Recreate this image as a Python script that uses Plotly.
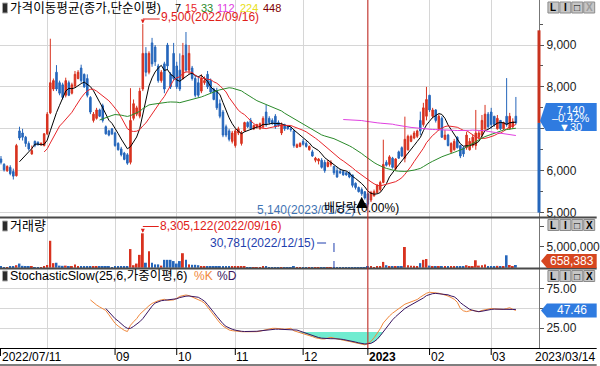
import plotly.graph_objects as go
import pandas as pd
import numpy as np

# ---------------- DATA ----------------
HOLIDAYS = ['2022-08-15', '2022-09-09', '2022-09-12', '2022-10-03', '2022-10-10',
            '2022-12-30', '2023-01-23', '2023-01-24', '2023-03-01']
DATES = [d for d in pd.bdate_range('2022-07-11', '2023-03-14')
         if d.strftime('%Y-%m-%d') not in HOLIDAYS]

OPEN = [6280, 6150, 6000, 6080, 5980, 5880, 6950, 6900, 6800, 6650,
        6400, 6700, 6680, 6620, 6600, 6880, 7380, 7950, 8350, 8100,
        8050, 7800, 8100, 7850, 8020, 8200, 8450, 8300, 8200, 7750,
        7200, 7250, 7450, 7550, 7050, 6950, 7000, 6900, 6650, 6520,
        6420, 6380, 6200, 7250, 7350, 7300, 7950, 8800, 8350, 9050,
        8950, 8500, 8150, 8550, 9000, 8300, 8800, 8500, 8400, 8200,
        9000, 8400, 8450, 8200, 8100, 7900, 8100, 8300, 8150, 7950,
        7900, 7600, 7400, 7050, 6950, 6700, 6600, 6900, 6650, 6950,
        7150, 7200, 7000, 7050, 7000, 7050, 7400, 7250, 7200, 7300,
        7150, 6900, 7100, 7050, 7000, 6950, 6560, 6580, 6700, 6650,
        6500, 6450, 6250, 6230, 6250, 6200, 6100, 6150, 6100, 6000,
        5980, 5980, 5950, 5950, 5900, 5700, 5600, 5550, 5500, 5450,
        5300, 5400, 5480, 5550, 5720, 6200, 6150, 6300, 6050, 6450,
        6550, 6300, 6500, 6700, 6780, 6820, 7200, 7100, 7300, 7800,
        7300, 7450, 7000, 7250, 6750, 6850, 6450, 6500, 6800, 6600,
        6550, 6550, 6500, 6600, 6600, 6800, 6850, 7000, 7350, 7400,
        7300, 7000, 7200, 7000, 7300, 7000, 7050, 7300]
HIGH = [6350, 6180, 6130, 6130, 6050, 6640, 7050, 7000, 6830, 6700,
        6600, 6720, 6700, 6680, 6900, 7400, 9150, 8200, 8520, 8150,
        8100, 8220, 8150, 8100, 8380, 8400, 8530, 8320, 8300, 7780,
        7400, 7500, 7480, 7600, 7080, 6980, 7020, 6930, 6680, 6570,
        6450, 6420, 7970, 7700, 7550, 7980, 9500, 8950, 8850, 9170,
        9000, 8550, 8400, 8600, 9050, 8350, 9050, 8600, 8800, 9050,
        9310, 9000, 8500, 8290, 8250, 8300, 8250, 8380, 8200, 7980,
        7980, 7700, 7450, 7100, 7000, 6950, 7000, 7050, 6950, 7170,
        7180, 7260, 7100, 7120, 7150, 7300, 7570, 7300, 7250, 7350,
        7200, 7150, 7120, 7080, 7050, 6980, 6650, 6680, 6760, 6700,
        6600, 6500, 6330, 6300, 6300, 6260, 6260, 6250, 6120, 6080,
        6050, 6020, 5980, 5980, 5900, 5720, 5620, 5600, 5500, 5480,
        5520, 5550, 5680, 5760, 6740, 6250, 6370, 6330, 6300, 6480,
        6580, 7290, 6860, 6860, 6950, 6980, 7410, 7620, 8000, 7810,
        7500, 7470, 7350, 7300, 6970, 6880, 6680, 6760, 6820, 6620,
        6580, 6930, 6780, 6860, 7450, 6950, 7330, 7570, 7400, 7500,
        7300, 7330, 7210, 7170, 8210, 7380, 7250, 7760]
LOW = [6150, 5980, 5970, 5890, 5790, 5860, 6730, 6720, 6570, 6480,
       6380, 6560, 6600, 6600, 6580, 6850, 7350, 7900, 7900, 7800,
       7700, 7750, 7780, 7820, 7980, 8180, 8100, 7980, 7750, 7350,
       7150, 7220, 7280, 7150, 6860, 6820, 6850, 6570, 6480, 6340,
       6250, 6140, 6150, 7200, 7300, 7250, 7900, 8250, 8300, 8480,
       8500, 8100, 8100, 7850, 8400, 7950, 8150, 7950, 7900, 8170,
       8350, 8300, 8150, 7750, 7750, 7850, 8050, 7950, 7850, 7680,
       7450, 7250, 6800, 6800, 6700, 6650, 6550, 6850, 6600, 6930,
       7020, 6980, 6970, 7000, 6980, 7000, 7050, 7100, 7100, 7000,
       7050, 6850, 6950, 6980, 6930, 6550, 6540, 6560, 6600, 6550,
       6480, 6330, 6200, 6150, 6050, 5950, 6080, 6100, 5900, 5830,
       5920, 5880, 5880, 5820, 5600, 5550, 5480, 5400, 5310, 5140,
       5250, 5380, 5450, 5500, 5700, 6100, 6100, 6050, 6000, 6280,
       6330, 6200, 6480, 6680, 6750, 6780, 6850, 7050, 7200, 7400,
       7250, 7150, 6950, 6780, 6730, 6580, 6420, 6480, 6530, 6300,
       6330, 6500, 6480, 6550, 6500, 6750, 6800, 6950, 7000, 7000,
       7050, 6980, 6970, 6970, 7050, 6980, 7000, 7100]
CLOSE = [6200, 6020, 6100, 5930, 5870, 6600, 6780, 6800, 6650, 6520,
         6480, 6600, 6620, 6650, 6880, 7350, 8100, 8150, 7950, 7850,
         7750, 8150, 7800, 8050, 8300, 8350, 8150, 8000, 7800, 7400,
         7350, 7450, 7300, 7200, 6880, 6850, 6880, 6600, 6500, 6380,
         6270, 6180, 7200, 7600, 7500, 7900, 8800, 8350, 8800, 8550,
         8600, 8150, 8350, 7950, 8500, 8000, 8200, 8000, 7950, 8750,
         8400, 8800, 8200, 7800, 7800, 8200, 8150, 8000, 7880, 7700,
         7500, 7300, 6850, 6850, 6750, 6900, 6950, 7000, 6900, 7150,
         7050, 7000, 7080, 7100, 7120, 7250, 7100, 7150, 7120, 7050,
         7080, 7100, 7000, 7000, 6980, 6600, 6620, 6650, 6630, 6580,
         6580, 6350, 6300, 6280, 6080, 6000, 6200, 6200, 5950, 5850,
         5950, 5900, 5900, 5850, 5650, 5600, 5500, 5450, 5350, 5200,
         5480, 5500, 5650, 5720, 6150, 6130, 6330, 6080, 6280, 6300,
         6350, 6750, 6820, 6820, 6900, 6950, 6950, 7500, 7700, 7450,
         7450, 7200, 7300, 6800, 6850, 6600, 6650, 6700, 6550, 6350,
         6400, 6850, 6700, 6800, 6900, 6900, 7200, 7350, 7050, 7100,
         7100, 7250, 7000, 7150, 7100, 7300, 7170, 7140]
VOLUME = [180000, 150000, 120000, 200000, 260000, 600000, 1000000, 450000, 300000, 250000,
          200000, 150000, 130000, 150000, 350000, 650000, 6500000, 1100000, 1200000, 500000,
          450000, 500000, 300000, 300000, 800000, 400000, 350000, 300000, 350000, 400000,
          220000, 250000, 200000, 280000, 220000, 180000, 150000, 250000, 200000, 220000,
          180000, 300000, 4500000, 600000, 1000000, 3100000, 8305122, 1200000, 4000000, 1200000,
          800000, 800000, 500000, 1900000, 1900000, 1900000, 1600000, 1000000, 1600000, 3500000,
          1900000, 800000, 700000, 700000, 600000, 400000, 400000, 300000, 250000, 300000,
          250000, 300000, 350000, 250000, 200000, 200000, 250000, 180000, 200000, 220000,
          150000, 130000, 120000, 110000, 140000, 200000, 250000, 150000, 120000, 130000,
          100000, 150000, 90000, 80000, 90000, 200000, 120000, 100000, 110000, 90000,
          100000, 130000, 90000, 80000, 120000, 150000, 100000, 80000, 30781, 90000,
          70000, 60000, 70000, 80000, 150000, 120000, 130000, 140000, 160000, 250000,
          200000, 150000, 200000, 250000, 1400000, 600000, 350000, 250000, 250000, 200000,
          300000, 5000000, 600000, 500000, 450000, 350000, 1100000, 1900000, 2100000, 500000,
          350000, 300000, 350000, 250000, 200000, 220000, 250000, 200000, 180000, 200000,
          180000, 600000, 300000, 250000, 1800000, 500000, 600000, 800000, 400000, 350000,
          300000, 450000, 300000, 350000, 3000000, 650000, 400000, 658383]

# Stochastic Slow %K (from bar 29) and %D (from bar 34)
STOCH_K_START = 29
STOCH_K = [61.0, 57.5, 54.5, 52.0, 50.0, 47.5, 42.0, 36.5, 31.0, 27.5,
           24.5, 22.0, 20.5, 28.5, 33.0, 37.0, 42.5, 46.5, 50.0, 53.5,
           56.5, 58.5, 60.0, 61.0, 61.8, 60.5, 60.5, 61.0, 63.0, 65.5,
           66.5, 67.3, 66.5, 65.0, 63.5, 62.0, 59.5, 57.0, 52.0, 46.5,
           41.0, 35.5, 31.5, 27.5, 24.5, 22.5, 21.6, 21.0, 20.5, 20.3,
           20.2, 20.1, 20.1, 20.2, 20.3, 21.0, 22.0, 23.5, 24.5, 24.6,
           24.6, 24.6, 24.0, 23.4, 24.0, 24.6, 21.5, 20.3, 19.0, 18.3,
           17.0, 15.5, 14.0, 12.5, 11.5, 11.0, 11.0, 12.0, 13.1, 12.0,
           11.0, 9.8, 9.2, 8.6, 7.8, 6.8, 5.8, 5.0, 4.3, 3.5,
           5.0, 8.0, 12.5, 18.0, 24.0, 31.5, 36.5, 40.5, 44.0, 47.0,
           50.0, 53.0, 55.5, 57.0, 58.7, 60.0, 61.5, 64.5, 67.3, 69.5,
           70.8, 70.5, 70.0, 69.5, 68.5, 67.5, 66.0, 64.0, 61.8, 58.0,
           50.0, 47.0, 46.0, 47.0, 48.0, 46.5, 46.0, 47.5, 48.5, 49.5,
           50.0, 49.5, 49.3, 49.0, 48.8, 50.0, 51.0, 49.0, 47.46]
STOCH_D_START = 34
STOCH_D = [50.0, 45.5, 41.7, 37.0, 34.0, 30.0, 27.0, 24.6, 24.6, 27.0,
           29.5, 33.0, 37.0, 42.5, 48.0, 53.0, 57.0, 59.0, 60.0, 60.5,
           61.0, 61.0, 61.5, 62.5, 64.0, 65.0, 65.8, 66.0, 65.5, 65.0,
           64.4, 62.0, 59.5, 55.0, 50.5, 45.0, 40.0, 34.5, 30.5, 27.0,
           25.0, 23.4, 22.2, 21.2, 20.8, 20.5, 20.4, 20.4, 20.5, 20.8,
           21.3, 21.8, 22.4, 23.0, 23.4, 23.5, 23.5, 23.4, 23.4, 23.2,
           23.0, 22.8, 22.4, 21.0, 19.5, 18.5, 16.5, 15.0, 13.8, 12.8,
           12.0, 11.5, 11.3, 11.3, 11.3, 11.3, 10.8, 10.3, 9.7, 8.7,
           7.8, 7.0, 6.0, 5.2, 4.6, 4.8, 5.4, 7.5, 10.5, 15.0,
           20.3, 25.5, 31.0, 35.5, 39.5, 43.0, 47.0, 50.0, 52.4, 54.5,
           56.5, 58.7, 61.0, 63.5, 66.5, 68.0, 69.0, 69.4, 69.0, 68.8,
           68.5, 67.5, 66.0, 65.0, 62.0, 57.5, 54.5, 51.5, 49.0, 47.5,
           46.5, 45.9, 46.5, 47.5, 48.0, 48.8, 49.2, 49.3, 49.2, 49.0,
           48.9, 48.8, 48.8, 48.8]
STOCH_OVERSOLD = 20

MA_PERIODS = [7, 15, 33, 112, 224, 448]
MA_COLORS = ['#000000', '#e8262a', '#2a8a2a', '#e040e0', '#e8e020', '#800000']
EX_DIV_DATE = '2022-12-28'
EX_DIV_TEXT = '배당락(0.00%)'
AXIS_BAR_TOP, AXIS_BAR_BOTTOM = 9350, 5000

# ---------------- GEOMETRY / STYLE ----------------
FONT = 'Liberation Sans, Noto Sans CJK KR, sans-serif'
UP, DN = '#d8321f', '#2566bb'
GRID = '#d6d6d6'
W, H = 600, 366
ML, MR, MT, MB = 0, 58, 0, 18
PW, PH = W - ML - MR, H - MT - MB
XR = [-0.32, 174.5]
PANELS = {'y': (0, 217, [4895, 10074]),
          'y2': (218, 268, [-72000, 12.0e6]),
          'y3': (269, 348, [-0.6, 100.6])}
MA_LABEL_X = [175, 185, 201, 217, 240, 263]   # header label x positions (px)


def pxX(px):
    return (px - ML) / PW


def pxY(py):
    return (PH + MT - py) / PH


def xpx(i):
    return ML + (i - XR[0]) / (XR[1] - XR[0]) * PW


def ypx(v, ax):
    top, bot, r = PANELS[ax]
    return bot - (v - r[0]) / (r[1] - r[0]) * (bot - top)


n = len(CLOSE)
idx = list(range(n))
c = pd.Series(CLOSE)
dstr = [d.strftime('%Y/%m/%d') for d in DATES]

month_idx = [i for i in range(1, n) if DATES[i].month != DATES[i - 1].month]
year_idx = [i for i in month_idx if DATES[i].year != DATES[i - 1].year]

fig = go.Figure()

fig.add_trace(go.Candlestick(
    x=idx, open=OPEN, high=HIGH, low=LOW, close=CLOSE,
    increasing=dict(line=dict(color=UP, width=1), fillcolor=UP),
    decreasing=dict(line=dict(color=DN, width=1), fillcolor=DN),
    xaxis='x', yaxis='y', hoverinfo='skip', showlegend=False))

for p, col in zip(MA_PERIODS, MA_COLORS):
    ma = c.rolling(p).mean()
    if ma.notna().any():
        fig.add_trace(go.Scatter(x=idx, y=ma, mode='lines', line=dict(color=col, width=1),
                                 xaxis='x', yaxis='y', hoverinfo='skip', showlegend=False))

vcol = [UP if CLOSE[i] >= OPEN[i] else DN for i in idx]
fig.add_trace(go.Bar(x=idx, y=VOLUME, marker=dict(color=vcol, line=dict(width=0)), width=0.62,
                     xaxis='x2', yaxis='y2', hoverinfo='skip', showlegend=False))

kx = list(range(STOCH_K_START, STOCH_K_START + len(STOCH_K)))
dx = list(range(STOCH_D_START, STOCH_D_START + len(STOCH_D)))

# oversold fill: between the 20 line and the lower of %K/%D
kd = {}
for x, v in zip(kx, STOCH_K):
    kd[x] = v
for x, v in zip(dx, STOCH_D):
    kd[x] = min(kd.get(x, v), v)
keys = sorted(kd)
runs, cur = [], []
for x in keys:
    if kd[x] < STOCH_OVERSOLD:
        cur.append(x)
    elif cur:
        runs.append(cur)
        cur = []
if cur:
    runs.append(cur)
for run in runs:
    a, b = run[0], run[-1]
    xs, ys = [], []
    if a - 1 in kd:
        t = (STOCH_OVERSOLD - kd[a - 1]) / (kd[a] - kd[a - 1])
        xs.append(a - 1 + t)
        ys.append(STOCH_OVERSOLD)
    xs += run
    ys += [kd[x] for x in run]
    if b + 1 in kd:
        t = (STOCH_OVERSOLD - kd[b]) / (kd[b + 1] - kd[b])
        xs.append(b + t)
        ys.append(STOCH_OVERSOLD)
    xs += [xs[-1], xs[0]]
    ys += [STOCH_OVERSOLD, STOCH_OVERSOLD]
    fig.add_trace(go.Scatter(x=xs, y=ys, fill='toself', fillcolor='#70ecd0', mode='none',
                             xaxis='x3', yaxis='y3', hoverinfo='skip', showlegend=False))

fig.add_trace(go.Scatter(x=kx, y=STOCH_K, mode='lines', line=dict(color='#f0883c', width=1),
                         xaxis='x3', yaxis='y3', hoverinfo='skip', showlegend=False))
fig.add_trace(go.Scatter(x=dx, y=STOCH_D, mode='lines', line=dict(color='#3a1560', width=1),
                         xaxis='x3', yaxis='y3', hoverinfo='skip', showlegend=False))

# ---------------- AXES ----------------
xcommon = dict(range=XR, tickvals=month_idx, showticklabels=False, ticks='', showgrid=True,
               gridcolor=GRID, gridwidth=1, zeroline=False, showline=False, fixedrange=True)
tickfont = dict(family=FONT, size=12, color='#222')
ycommon = dict(side='right', ticks='outside', ticklen=4, tickcolor='#555', showline=True,
               linecolor='#777', linewidth=1, zeroline=False, tickfont=tickfont, fixedrange=True)

layout = dict(
    width=W, height=H, autosize=False, margin=dict(l=ML, r=MR, t=MT, b=MB),
    paper_bgcolor='white', plot_bgcolor='white', showlegend=False,
    xaxis=dict(domain=[0, 1], anchor='y', rangeslider=dict(visible=False), **xcommon),
    xaxis2=dict(domain=[0, 1], anchor='y2', matches='x', **xcommon),
    xaxis3=dict(domain=[0, 1], anchor='y3', matches='x', **xcommon),
    yaxis=dict(domain=[pxY(217), pxY(0)], range=PANELS['y'][2], anchor='x',
               tickvals=[5000, 6000, 7000, 8000, 9000],
               ticktext=['5,000', '6,000', '', '8,000', '9,000'],
               showgrid=True, gridcolor=GRID,
               minor=dict(tickvals=[9500, 8500, 7500, 6500, 5500], ticks='outside', ticklen=3,
                          tickcolor='#555'),
               **ycommon),
    yaxis2=dict(domain=[pxY(268), pxY(218)], range=PANELS['y2'][2], anchor='x2',
                tickvals=[5000000, 10000000], ticktext=['5,000,000', ''], showgrid=False,
                **ycommon),
    yaxis3=dict(domain=[pxY(348), pxY(269)], range=PANELS['y3'][2], anchor='x3',
                tickvals=[25, 50, 75], ticktext=['25.00', '', '75.00'], showgrid=True,
                gridcolor=GRID, **ycommon),
)
fig.update_layout(**layout)

shapes = []
annotations = []


def line_px(x0, y0, x1, y1, color, width=1, dash=None):
    shapes.append(dict(type='line', xref='paper', yref='paper', x0=pxX(x0), y0=pxY(y0),
                       x1=pxX(x1), y1=pxY(y1), line=dict(color=color, width=width, dash=dash),
                       layer='above'))


def rect_px(x0, y0, x1, y1, fill, line='#888', lw=1):
    shapes.append(dict(type='rect', xref='paper', yref='paper', x0=pxX(x0), y0=pxY(y0),
                       x1=pxX(x1), y1=pxY(y1), fillcolor=fill, line=dict(color=line, width=lw),
                       layer='above'))


def poly_px(pts, fill):
    path = 'M ' + ' L '.join(f'{pxX(x):.5f},{pxY(y):.5f}' for x, y in pts) + ' Z'
    shapes.append(dict(type='path', xref='paper', yref='paper', path=path, fillcolor=fill,
                       line=dict(width=0), layer='above'))


def text_px(x, y, text, color='#000', size=12, xanchor='left', bold=False):
    if bold:
        text = f'<b>{text}</b>'
    annotations.append(dict(xref='paper', yref='paper', x=pxX(x), y=pxY(y), text=text,
                            showarrow=False, xanchor=xanchor, yanchor='middle',
                            font=dict(family=FONT, size=size, color=color), borderpad=0))


def arrow_px(x, y, dy, color, width=1, size=1, head=2):
    annotations.append(dict(xref='paper', yref='paper', x=pxX(x), y=pxY(y), text='',
                            showarrow=True, ax=0, ay=dy, arrowhead=head, arrowsize=size,
                            arrowwidth=width, arrowcolor=color, standoff=0, startstandoff=0))


for yy in (217.5, 268.5):
    line_px(0, yy, W, yy, '#4a4a4a', 2)
line_px(0, 348.5, W, 348.5, '#000', 1.2)
line_px(0, 365, W, 365, '#000', 1.2)

for yi in year_idx:
    line_px(xpx(yi), 0, xpx(yi), 348, '#c8221a', 1)

last = CLOSE[-1]
line_px(542, ypx(AXIS_BAR_TOP, 'y'), 542, ypx(last, 'y'), '#c8321f', 3)
line_px(542, ypx(last, 'y'), 542, ypx(AXIS_BAR_BOTTOM, 'y'), '#2566bb', 3)

# panel headers
for yy in (8, 226, 276):
    rect_px(2.5, yy - 5, 7.5, yy + 5, '#2a2a2a', '#a8a8a8', 1)
text_px(9, 8, '가격이동평균(종가,단순이평)', size=12.6)
for p, col, lx in zip(MA_PERIODS, MA_COLORS, MA_LABEL_X):
    text_px(lx, 8, str(p), col, 11)
text_px(9, 226, '거래량', size=13)
text_px(9, 276, 'StochasticSlow(25,6,가중이평,6)', size=12.5)
text_px(194, 276, '%K', '#f0883c', 12)
text_px(217, 276, '%D', '#3a1560', 12)

for yy, xcol in ((7.5, '#9a9a9a'), (225, '#000'), (276, '#000')):
    for k, (lab, col) in enumerate((('L', '#000'), ('I', '#000'), ('□', '#000'), ('X', xcol))):
        x0 = 551 + 12 * k
        rect_px(x0, yy - 5.5, x0 + 11, yy + 5.5, '#c6c6c6', '#8a8a8a', 1)
        text_px(x0 + 5.5, yy, lab, col, 10, 'center', bold=True)

imax = int(np.argmax(HIGH))
xm = xpx(imax)
line_px(xm, 19, xm + 17, 19, '#e0201a', 1)
arrow_px(xm, ypx(HIGH[imax], 'y') - 0.5, -5, '#e0201a', 1, 0.8)
text_px(xm + 17, 16.5, f'{HIGH[imax]:,}({dstr[imax]})', '#e0201a', 12)

imin = int(np.argmin(LOW))
text_px(xpx(imin) - 12, 210, f'{LOW[imin]:,}({dstr[imin]})', '#3f74b4', 12, 'right')

iex = dstr.index(EX_DIV_DATE.replace('-', '/'))
arrow_px(xpx(iex), ypx(LOW[iex], 'y') + 1, 9, '#000', 2.5, 0.9, 2)
text_px(xpx(iex), 208, EX_DIV_TEXT, '#000', 12, 'center')

vmax = int(np.argmax(VOLUME))
xv = xpx(vmax)
line_px(xv, 226.5, xv + 16, 226.5, '#e0201a', 1)
arrow_px(xv, ypx(VOLUME[vmax], 'y2') - 0.5, -5, '#e0201a', 1, 0.8)
text_px(xv + 16, 226, f'{VOLUME[vmax]:,}({dstr[vmax]})', '#e0201a', 12)

vmin = int(np.argmin(VOLUME))
xn = xpx(vmin)
line_px(xn - 17, 243, xn, 243, '#1f3fae', 1, 'dash')
line_px(xn, 243, xn, ypx(0, 'y2'), '#1f3fae', 1, 'dash')
text_px(xn - 18, 242.5, f'{VOLUME[vmin]:,}({dstr[vmin]})', '#1f3fae', 12, 'right')

prev = CLOSE[-2]
chg = last - prev
pct = chg / prev * 100
tip = ypx(last, 'y')
poly_px([(543, tip - 2), (549, tip - 20), (600, tip - 20), (600, tip + 8), (549, tip + 8)],
        '#2f7be0')
text_px(574, tip - 13, f'{last:,}', 'white', 11, 'center')
text_px(574, tip - 4.5, f'{pct:.2f}%'.replace('-', '–'), 'white', 11, 'center')
text_px(574, tip + 4, ('▼' if chg < 0 else '▲') + f'{abs(chg)}', 'white', 11, 'center')

vt = min(ypx(VOLUME[-1], 'y2'), 261)
poly_px([(544, vt), (550, vt - 7), (600, vt - 7), (600, vt + 7), (550, vt + 7)], '#d6461f')
text_px(575, vt, f'{VOLUME[-1]:,}', 'white', 12, 'center')

st = ypx(STOCH_K[-1], 'y3')
poly_px([(544, st), (550, st - 7), (600, st - 7), (600, st + 7), (550, st + 7)], '#2f7be0')
text_px(575, st, f'{STOCH_K[-1]:.2f}', 'white', 12, 'center')

line_px(0.5, 349, 0.5, 356, '#000', 1)
text_px(1, 357, dstr[0], '#000', 12)
for mi in month_idx:
    xx = xpx(mi)
    if mi == month_idx[0]:
        continue
    line_px(xx, 349, xx, 355, '#000', 1)
    if mi in year_idx:
        text_px(xx, 357, str(DATES[mi].year), '#000', 12, bold=True)
    else:
        text_px(xx, 357, f'{DATES[mi].month:02d}', '#000', 12)
text_px(599, 357, dstr[-1], '#000', 12, 'right')

fig.update_layout(shapes=shapes, annotations=annotations)
fig.write_html('out.html', config={'displayModeBar': False},
               post_script="document.body.style.margin='0px';"
                           "document.body.style.padding='0px';")
